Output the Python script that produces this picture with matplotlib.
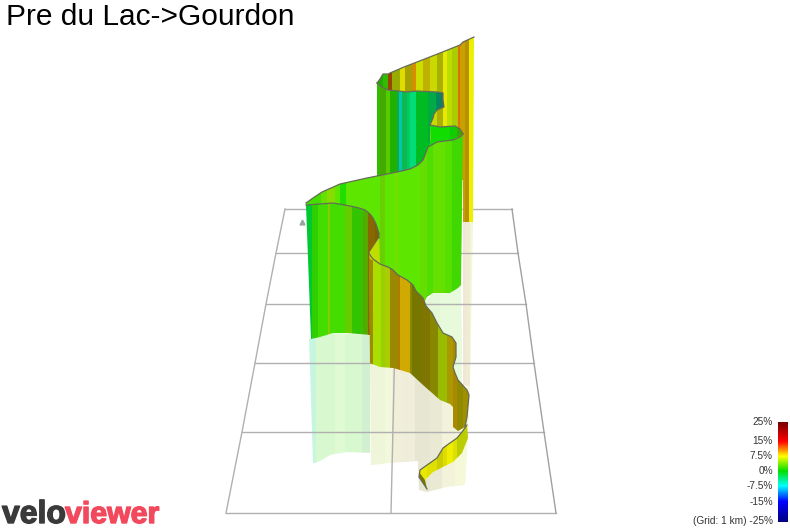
#!/usr/bin/env python3
"""3D ride profile (Pre du Lac->Gourdon), flattened to screen-space ribbons."""
import matplotlib
matplotlib.use("Agg")
import matplotlib.pyplot as plt
from matplotlib.colors import LinearSegmentedColormap, to_rgb
from matplotlib.patches import Polygon
import matplotlib.patheffects as pe
import numpy as np

W, H = 790, 529

TITLE = "Pre du Lac->Gourdon"
SCALE_LABELS = ["25%", "15%", "7.5%", "0%", "-7.5%", "-15%", "(Grid: 1 km) -25%"]
SCALE_Y = [422, 441, 456, 471, 486, 502, 521]
SCALE_COLORS = ["#7a0000", "#ff0000", "#ff8800", "#ffff00", "#00e000", "#00ffff", "#0000ff", "#000080"]
SCALE_STOPS = [0.0, 0.19, 0.27, 0.34, 0.49, 0.64, 0.8, 1.0]

GRID_Y = [209, 253, 304, 363, 432, 513]
GRID_LEFT = [285, 276, 266, 255, 242, 226]
GRID_RIGHT = [512, 518, 526, 534, 544, 556]
GRID_MID_X = [398, 391]
GRID_MID_Y = [209, 513]

# screen outlines of each wall
wall_a = [(377, 83), (380, 79), (383, 74), (388, 74), (390, 73), (404, 67), (417, 62), (440, 53), (460, 45), (463, 42),
          (474, 37), (473, 222), (463, 222), (463, 180), (380, 180)]
wall_b = [(377, 83), (382, 87), (388, 90), (398, 91), (407, 92), (417, 91), (437, 92), (443, 93), (443, 100),
          (444, 107), (437, 110), (434, 114), (433, 118), (430, 125), (431, 170), (377, 177)]
wall_b2 = [(430, 125), (440, 127), (455, 126), (460, 129), (463, 134), (453, 140), (437, 142), (428, 147), (431, 140)]
wall_c = [(306, 203), (313, 198), (322, 192), (340, 184), (367, 178), (397, 172), (410, 169), (418, 165), (423, 160),
          (425, 155), (428, 147), (437, 142), (453, 140), (460, 137), (463, 134), (461, 285), (458, 288), (450, 293),
          (433, 293), (427, 297), (424, 303), (400, 320), (320, 320)]
wall_d = [(306, 205), (320, 204), (333, 203), (350, 206), (359, 208), (365, 210), (370, 214), (373, 218), (376, 224),
          (379, 233), (379, 238), (369, 253), (370, 335), (347, 333), (333, 333), (320, 337), (311, 339)]
wall_e = [(369, 253), (370, 255), (373, 259), (380, 264), (388, 267), (393, 270), (398, 275), (407, 280), (413, 285),
          (416, 291), (423, 298), (426, 306), (432, 313), (437, 323), (443, 333), (452, 337), (456, 343), (456, 357),
          (453, 367), (455, 373), (458, 380), (467, 390), (469, 395), (467, 417), (465, 427), (458, 431), (453, 427),
          (453, 407), (450, 404), (440, 400), (423, 385), (410, 373), (393, 368), (380, 367), (370, 363)]
wall_flap = [(379, 238), (369, 253), (370, 259), (380, 264)]
wall_f = [(467, 425), (462, 432), (457, 438), (443, 448), (437, 458), (420, 470), (419, 477), (427, 489), (425, 480),
          (433, 472), (453, 462), (462, 453), (468, 438)]
wall_fold = [(419, 472), (419, 477), (427, 489), (425, 480)]

pale_a = [(463, 222), (473, 222), (470, 387), (463, 385)]
pale_c = [(424, 303), (433, 293), (450, 293), (461, 285), (463, 385), (440, 400), (424, 385)]
pale_d = [(309, 339), (333, 333), (370, 335), (370, 453), (347, 452), (330, 455), (322, 460), (315, 463), (313, 463)]
pale_e = [(370, 363), (371, 465), (390, 463), (405, 462), (418, 461), (419, 490), (427, 492), (447, 487), (465, 485),
          (468, 437), (470, 385), (440, 400), (410, 373)]

# stripe edges (x) and colours per wall
a_x = [377, 383, 388, 392, 400, 405, 413, 416, 423, 430, 437, 443, 447, 452, 458, 460, 465, 469, 475]
a_c = ["#22aa00", "#33bb00", "#994400", "#99aa00", "#dddd00", "#aaa000", "#e08800", "#ccdd00", "#c0b000", "#c8d800",
       "#a8b000", "#e8e800", "#bbdd00", "#aacc00", "#e07000", "#c8a000", "#b89000", "#eeee00"]
b_x = [377, 380, 386, 390, 397, 399, 402, 407, 410, 416, 428, 436, 440, 445]
b_c = ["#33bb00", "#44aa00", "#55cc00", "#20b000", "#10a848", "#00c8b0", "#10b850", "#00cc66", "#00dd77",
       "#00bb22", "#00aa44", "#00885f", "#1a7a60"]
b2_x = [428, 450, 457, 465]
b2_c = ["#11dd00", "#11cc00", "#33aa00"]
c_x = [305, 321, 327, 335, 340, 346, 380, 385, 395, 398, 420, 427, 433, 445, 452, 465]
c_c = ["#44dd00", "#66e000", "#88dd00", "#5ce600", "#22dd00", "#5ce600", "#66d000", "#5ce600", "#77dd00", "#5ce600",
       "#66dd00", "#50dd00", "#66e000", "#55e000", "#40d800"]
d_x = [305, 312, 318, 328, 330, 345, 352, 363, 368, 375, 380]
d_c = ["#00c830", "#30d000", "#44dd00", "#88cc00", "#44dd00", "#66cc00", "#33c400", "#55aa00", "#886600", "#776600"]
e_x = [369, 373, 381, 385, 390, 398, 400, 410, 412, 422, 430, 438, 447, 453, 457, 463, 470]
e_c = ["#a08a00", "#aadd00", "#99d000", "#aacc00", "#998800", "#b07a00", "#d0aa00", "#888800", "#777700", "#807500",
       "#888800", "#99bb00", "#aa9900", "#aa8800", "#8f8a00", "#a09000"]
f_x = [418, 427, 437, 443, 447, 453, 457, 470]
f_c = ["#e8e800", "#e0e000", "#cccc00", "#dddd00", "#eeee00", "#dde000", "#bbcc00"]

pale_d_x = [308, 316, 335, 345, 362, 372]
pale_d_c = ["#c8f5e0", "#d8f8d0", "#e0fad4", "#d8f8d0", "#d0f0d0"]
pale_e_x = [369, 385, 392, 402, 415, 430, 442, 455, 470]
pale_e_c = ["#eef5d8", "#f2f8dc", "#f3eeda", "#eeeeda", "#e6e6d2", "#eaead4", "#f3f3dc", "#f6f8da"]
pale_c_x = [424, 440, 462]
pale_c_c = ["#e4f8d8", "#e8fadc"]
pale_a_x = [462, 466, 470, 475]
pale_a_c = ["#f0e8d4", "#f0ecd4", "#f4f6d8"]


def ribbon(ax, outline, xs, colors, z):
    clip = Polygon(outline, closed=True, transform=ax.transData)
    bars = ax.bar(xs[:-1], H, width=np.diff(xs), bottom=0, align="edge", color=colors,
                  linewidth=0, antialiased=False, zorder=z)
    for b in bars:
        b.set_clip_path(clip)


def rim(ax, pts, z):
    xs, ys = zip(*pts)
    ax.plot(xs, ys, color="#666b58", lw=0.9, zorder=z, solid_joinstyle="round")


def main():
    plt.rcParams["font.family"] = ["Liberation Sans", "DejaVu Sans"]
    fig = plt.figure(figsize=(W / 100, H / 100), dpi=100)
    ax = fig.add_axes([0, 0, 1, 1])

    # pale reflection goes under the grid
    ribbon(ax, pale_a, pale_a_x, pale_a_c, 1)
    ribbon(ax, pale_c, pale_c_x, pale_c_c, 1.1)
    ribbon(ax, pale_d, pale_d_x, pale_d_c, 1.2)
    ribbon(ax, pale_e, pale_e_x, pale_e_c, 1.3)

    for y, l, r in zip(GRID_Y, GRID_LEFT, GRID_RIGHT):
        ax.plot([l, r], [y, y], color="#b0b0b0", lw=1.0, zorder=2)
    ax.plot(GRID_LEFT, GRID_Y, color="#b0b0b0", lw=1.0, zorder=2)
    ax.plot(GRID_RIGHT, GRID_Y, color="#a0a0a0", lw=1.0, zorder=2)
    ax.plot(GRID_MID_X, GRID_MID_Y, color="#b0b0b0", lw=1.0, zorder=2)
    ax.plot([302], [222], marker="^", ms=3.5, color="#9aa5a0", zorder=2)

    # walls back to front
    ribbon(ax, wall_a, a_x, a_c, 3)
    rim(ax, wall_a[:11], 3.05)
    ribbon(ax, wall_b, b_x, b_c, 3.1)
    rim(ax, wall_b[:14], 3.15)
    ribbon(ax, wall_b2, b2_x, b2_c, 3.2)
    rim(ax, wall_b2[:5], 3.25)
    ribbon(ax, wall_c, c_x, c_c, 3.3)
    rim(ax, wall_c[:15], 3.35)
    ribbon(ax, wall_d, d_x, d_c, 3.4)
    rim(ax, wall_d[:12], 3.45)
    ribbon(ax, wall_f, f_x, f_c, 3.5)
    ax.add_patch(Polygon(wall_fold, closed=True, color="#777700", lw=0, zorder=3.55))
    rim(ax, wall_f[:8], 3.6)
    ribbon(ax, wall_e, e_x, e_c, 3.7)
    ax.add_patch(Polygon(wall_flap, closed=True, color="#c0dd00", lw=0, zorder=3.75))
    rim(ax, wall_e[:25], 3.8)

    ax.text(6, 17, TITLE, fontsize=21.5, va="center", ha="left", color="black")

    for lab, y in zip(SCALE_LABELS, SCALE_Y):
        ax.text(773, y, lab, fontsize=7.3, va="center", ha="right", color="#333333")
    cmap = LinearSegmentedColormap.from_list("grade", list(zip(SCALE_STOPS, map(to_rgb, SCALE_COLORS))))
    ax.imshow(np.linspace(0, 1, 100).reshape(-1, 1), cmap=cmap, aspect="auto", extent=[778, 788, 522, 422], zorder=2)

    ax.text(2, 523, "velo", fontsize=23, fontweight="bold", color="#3a3a3a", va="baseline", ha="left",
            path_effects=[pe.withStroke(linewidth=1.0, foreground="#3a3a3a")])
    ax.text(65, 523, "viewer", fontsize=21.8, fontweight="bold", color="#f2495c", va="baseline", ha="left",
            path_effects=[pe.withStroke(linewidth=1.0, foreground="#f2495c")])

    ax.set_xlim(0, W)
    ax.set_ylim(H, 0)
    ax.axis("off")
    fig.savefig("out.png", dpi=100)


if __name__ == "__main__":
    main()
